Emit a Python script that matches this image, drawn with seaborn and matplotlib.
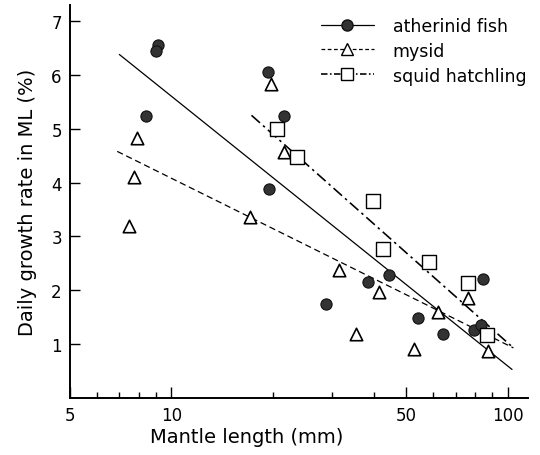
import numpy as np
import pandas as pd
import seaborn as sns
import matplotlib.pyplot as plt
from matplotlib.lines import Line2D
from matplotlib.ticker import FixedLocator, NullFormatter

# values (mantle length in mm, growth rate in % per day)
fish_ml = [9.1, 9.0, 8.4, 19.4, 21.6, 19.5, 28.9, 38.3, 44.3, 54.2, 64.3, 79.6, 83.1, 84.2]
fish_gr = [6.55, 6.44, 5.23, 6.05, 5.23, 3.89, 1.74, 2.15, 2.28, 1.48, 1.19, 1.26, 1.35, 2.21]

mysid_ml = [7.5, 7.75, 7.9, 17.1, 19.75, 21.6, 31.5, 35.4, 41.5, 52.8, 61.9, 76.4, 87.2]
mysid_gr = [3.2, 4.11, 4.82, 3.36, 5.84, 4.56, 2.38, 1.19, 1.97, 0.91, 1.6, 1.86, 0.87]

squid_ml = [20.6, 23.6, 39.8, 42.6, 58.2, 76.4, 86.6]
squid_gr = [4.99, 4.48, 3.66, 2.77, 2.53, 2.14, 1.17]

# regression lines (end points)
fish_line_ml = [7.0, 103.0]
fish_line_gr = [6.38, 0.53]
mysid_line_ml = [6.9, 104.0]
mysid_line_gr = [4.58, 0.93]
squid_line_ml = [17.3, 104.0]
squid_line_gr = [5.25, 0.93]

labels = ["atherinid fish", "mysid", "squid hatchling"]

sns.set_style("ticks")
plt.rcParams['font.family'] = ['DejaVu Sans']
plt.rcParams['text.color'] = 'black'
plt.rcParams['axes.labelcolor'] = 'black'
plt.rcParams['xtick.color'] = 'black'
plt.rcParams['ytick.color'] = 'black'
plt.rcParams['axes.edgecolor'] = 'black'

fig = plt.figure(figsize=(5.4, 4.56), dpi=100)
ax = fig.add_axes([0.13, 0.125, 0.848, 0.862])

lw = 0.9
sns.lineplot(x=fish_line_ml, y=fish_line_gr, ax=ax, color="black", lw=lw, linestyle="-")
sns.lineplot(x=mysid_line_ml, y=mysid_line_gr, ax=ax, color="black", lw=lw, linestyle=(0, (5, 3)))
sns.lineplot(x=squid_line_ml, y=squid_line_gr, ax=ax, color="black", lw=lw * 1.3,
             linestyle=(0, (7, 2.5, 1.5, 2.5)))

sns.scatterplot(x=fish_ml, y=fish_gr, ax=ax, marker="o", s=65, color="#333333",
                edgecolor="#111111", linewidth=0.8, zorder=3)
sns.scatterplot(x=mysid_ml, y=mysid_gr, ax=ax, marker="^", s=80, facecolor="white",
                edgecolor="black", linewidth=1.2, zorder=3)
sns.scatterplot(x=squid_ml, y=squid_gr, ax=ax, marker="s", s=95, facecolor="white",
                edgecolor="black", linewidth=1.0, zorder=3)

ax.set_xscale("log")
ax.set_xlim(5, 115)
ax.set_ylim(0, 7.3)

ax.xaxis.set_major_locator(FixedLocator([5, 10, 50, 100]))
ax.set_xticklabels(["5", "10", "50", "100"])
ax.xaxis.set_minor_locator(FixedLocator([6, 7, 8, 9, 20, 30, 40, 60, 70, 80, 90]))
ax.xaxis.set_minor_formatter(NullFormatter())
ax.set_yticks([1, 2, 3, 4, 5, 6, 7])

ax.tick_params(axis="both", which="major", direction="in", length=7, width=1.0,
               labelsize=12, pad=6)
ax.tick_params(axis="x", which="minor", direction="in", length=4, width=1.0)
ax.tick_params(axis="x", which="major", length=8)

sns.despine(ax=ax)
for sp in ["left", "bottom"]:
    ax.spines[sp].set_linewidth(1.4)

ax.set_xlabel("Mantle length (mm)", fontsize=14, labelpad=4)
ax.set_ylabel("Daily growth rate in ML (%)", fontsize=14, labelpad=10)
ax.xaxis.set_label_coords(0.386, -0.075)

handles = [
    Line2D([], [], color="black", lw=lw, linestyle="-", marker="o", markersize=8,
           markerfacecolor="#333333", markeredgecolor="#111111"),
    Line2D([], [], color="black", lw=lw, linestyle=(0, (3, 2)), marker="^", markersize=8,
           markerfacecolor="white", markeredgecolor="black"),
    Line2D([], [], color="black", lw=lw * 1.3, linestyle=(0, (4, 1.5, 1, 1.5)), marker="s",
           markersize=9, markerfacecolor="white", markeredgecolor="black"),
]
ax.legend(handles, labels, loc="upper right", bbox_to_anchor=(1.03, 1.01), frameon=False,
          fontsize=12.5, handlelength=3.0, labelspacing=0.4, handletextpad=1.1)

fig.savefig("out.png", dpi=100)
